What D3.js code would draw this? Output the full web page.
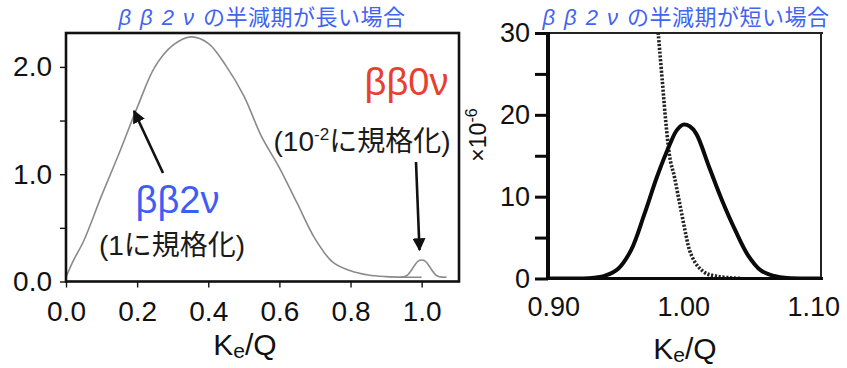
<!DOCTYPE html>
<html>
<head>
<meta charset="utf-8">
<script src="https://cdn.jsdelivr.net/npm/d3@7/dist/d3.min.js"></script>
<style>
  html, body { margin: 0; padding: 0; background: #fff; }
  svg { display: block; }
  text { font-family: "Liberation Sans", Arial, "Noto Sans CJK JP", sans-serif; }
</style>
</head>
<body>
<svg id="chart" width="847" height="368"></svg>
<script>
// ---- Left panel: ββ2ν spectrum (normalised to 1) and ββ0ν peak (normalised to 10^-2)
const leftX = [0.00, 0.02, 0.05, 0.10, 0.15, 0.20, 0.25, 0.30, 0.35, 0.40, 0.45,
               0.50, 0.55, 0.60, 0.65, 0.70, 0.75, 0.80, 0.85, 0.90, 0.95, 1.00];
const twoNu = [0.04, 0.19, 0.38, 0.80, 1.20, 1.62, 2.00, 2.20, 2.28, 2.22, 2.01,
               1.73, 1.35, 1.06, 0.73, 0.40, 0.18, 0.10, 0.06, 0.045, 0.04, 0.04];
const peakX = [0.94, 0.95, 0.96, 0.97, 0.98, 0.99, 1.00, 1.01, 1.02, 1.03, 1.04, 1.05, 1.07];
const zeroNu = [0.04, 0.045, 0.06, 0.10, 0.15, 0.19, 0.20, 0.19, 0.15, 0.10, 0.06, 0.045, 0.04];
const leftXTicks = [0.0, 0.2, 0.4, 0.6, 0.8, 1.0];
const leftYTicks = [0.0, 0.5, 1.0, 1.5, 2.0];
const leftYLabels = [0.0, 1.0, 2.0];

// ---- Right panel: zoom around Ke/Q = 1 (units of 10^-6)
const rightX = [0.896, 0.92, 0.93, 0.94, 0.95, 0.96, 0.97, 0.98, 0.99, 0.995, 1.00,
                1.005, 1.01, 1.02, 1.03, 1.04, 1.05, 1.06, 1.07, 1.08, 1.106];
const zeroNuZoom = [0, 0, 0.05, 0.35, 1.2, 3.5, 7.8, 12.5, 16.5, 18.1, 18.8,
                    18.6, 17.7, 13.6, 9.5, 5.9, 2.8, 0.95, 0.3, 0.05, 0];
const tailX = [0.9805, 0.984, 0.987, 0.990, 0.993, 0.996, 0.999, 1.002, 1.005,
               1.009, 1.013, 1.018, 1.025, 1.035, 1.045];
const twoNuTail = [30.5, 24, 18.5, 14.5, 12.6, 10.2, 7.8, 5.4, 3.4,
                   2.0, 1.2, 0.6, 0.3, 0.1, 0];
const rightXTicks = [0.90, 1.00, 1.10];
const rightYTicks = [0, 5, 10, 15, 20, 25, 30];
const rightYLabels = [0, 10, 20, 30];

const svg = d3.select("#chart");
const BLUE = "#3d5df5", RED = "#e8402f", TITLE_BLUE = "#4363f2";

// ================= left panel =================
const L = { left: 66, right: 459, top: 33, bottom: 281.5 };
const xL = d3.scaleLinear().domain([0, 1.105]).range([L.left, L.right]);
const yL = d3.scaleLinear().domain([0, 2.316]).range([L.bottom, L.top]);

const gL = svg.append("g");
gL.append("clipPath").attr("id", "clipL").append("rect")
  .attr("x", L.left).attr("y", L.top).attr("width", L.right - L.left).attr("height", L.bottom - L.top);

const lineL = d3.line().x(d => xL(d[0])).y(d => yL(d[1])).curve(d3.curveCatmullRom);
gL.append("path").datum(d3.zip(leftX, twoNu)).attr("d", lineL)
  .attr("fill", "none").attr("stroke", "#8a8a8a").attr("stroke-width", 1.6).attr("clip-path", "url(#clipL)");
gL.append("path").datum(d3.zip(peakX, zeroNu)).attr("d", lineL)
  .attr("fill", "none").attr("stroke", "#8a8a8a").attr("stroke-width", 1.6).attr("clip-path", "url(#clipL)");

// frame
gL.append("rect").attr("x", L.left).attr("y", L.top)
  .attr("width", L.right - L.left).attr("height", L.bottom - L.top)
  .attr("fill", "none").attr("stroke", "#111").attr("stroke-width", 2.6);

const axLY = gL.append("g").attr("transform", `translate(${L.left},0)`)
  .call(d3.axisLeft(yL).tickValues(leftYTicks).tickSize(6).tickPadding(8)
        .tickFormat(d => leftYLabels.includes(d) ? d3.format(".1f")(d) : ""));
const axLX = gL.append("g").attr("transform", `translate(0,${L.bottom})`)
  .call(d3.axisBottom(xL).tickValues(leftXTicks).tickSize(6).tickPadding(14).tickFormat(d3.format(".1f")));
[axLY, axLX].forEach(a => {
  a.select(".domain").remove();
  a.selectAll(".tick line").attr("stroke", "#111").attr("stroke-width", 1.4);
  a.selectAll("text").attr("font-size", 28).attr("fill", "#111")
    .attr("font-family", "Liberation Sans, Arial, sans-serif");
});
axLX.selectAll("text").attr("dy", "0.71em");

// axis title
const kqL = gL.append("text").attr("x", 245).attr("y", 355).attr("text-anchor", "middle")
  .attr("font-size", 30).attr("fill", "#111");
kqL.append("tspan").text("K");
kqL.append("tspan").text("e").attr("font-size", 21).attr("dy", 3);
kqL.append("tspan").text("/Q").attr("dy", -3);

// panel title: full-width style Greek followed by Japanese
function title(x, txt) {
  const t = svg.append("text").attr("x", x).attr("y", 25).attr("text-anchor", "middle")
    .attr("font-size", 22).attr("fill", TITLE_BLUE)
    .attr("font-family", "Noto Sans CJK JP, sans-serif");
  t.append("tspan").text("ββ2ν").attr("font-style", "italic").attr("letter-spacing", 9)
    .attr("font-family", "Liberation Sans, sans-serif");
  t.append("tspan").text(txt).attr("letter-spacing", 0.5);
}
title(262, "の半減期が長い場合");

// annotations
svg.append("defs").append("marker").attr("id", "ah")
  .attr("viewBox", "0 0 10 10").attr("refX", 9).attr("refY", 5)
  .attr("markerWidth", 5).attr("markerHeight", 5).attr("orient", "auto")
  .append("path").attr("d", "M0,0 L10,5 L0,10 z").attr("fill", "#111");

gL.append("line").attr("x1", 163).attr("y1", 173).attr("x2", 134).attr("y2", 111)
  .attr("stroke", "#111").attr("stroke-width", 2.6).attr("marker-end", "url(#ah)");
gL.append("line").attr("x1", 416).attr("y1", 162).attr("x2", 419.5).attr("y2", 250)
  .attr("stroke", "#111").attr("stroke-width", 2.6).attr("marker-end", "url(#ah)");

gL.append("text").attr("x", 177.5).attr("y", 213).attr("text-anchor", "middle")
  .attr("font-size", 38).attr("fill", BLUE).text("ββ2ν");
gL.append("text").attr("x", 172).attr("y", 255).attr("text-anchor", "middle")
  .attr("font-size", 28).attr("fill", "#1a1a1a").text("(1に規格化)");
gL.append("text").attr("x", 406.5).attr("y", 95).attr("text-anchor", "middle")
  .attr("font-size", 38).attr("fill", RED).text("ββ0ν");
const norm2 = gL.append("text").attr("x", 362).attr("y", 151).attr("text-anchor", "middle")
  .attr("font-size", 28).attr("fill", "#1a1a1a");
norm2.append("tspan").text("(10");
norm2.append("tspan").text("-2").attr("font-size", 17).attr("dy", -11);
norm2.append("tspan").text("に規格化)").attr("dy", 11);

// ================= right panel =================
const R = { left: 548, right: 821, top: 33, bottom: 278.5 };
const xR = d3.scaleLinear().domain([0.896, 1.106]).range([R.left, R.right]);
const yR = d3.scaleLinear().domain([0, 30]).range([R.bottom, R.top]);

const gR = svg.append("g");
gR.append("clipPath").attr("id", "clipR").append("rect")
  .attr("x", R.left).attr("y", R.top).attr("width", R.right - R.left).attr("height", R.bottom - R.top);

const lineR = d3.line().x(d => xR(d[0])).y(d => yR(d[1])).curve(d3.curveCatmullRom);
gR.append("path").datum(d3.zip(tailX, twoNuTail)).attr("d", lineR)
  .attr("fill", "none").attr("stroke", "#222").attr("stroke-width", 3.6)
  .attr("stroke-dasharray", "2.2,1.6").attr("clip-path", "url(#clipR)");
gR.append("path").datum(d3.zip(rightX, zeroNuZoom)).attr("d", lineR)
  .attr("fill", "none").attr("stroke", "#0a0a0a").attr("stroke-width", 4)
  .attr("clip-path", "url(#clipR)");

// frame: heavy left/bottom, lighter top/right
gR.append("line").attr("x1", R.left).attr("x2", R.right + 2).attr("y1", R.top).attr("y2", R.top)
  .attr("stroke", "#222").attr("stroke-width", 2);
gR.append("line").attr("x1", R.right).attr("x2", R.right).attr("y1", R.top).attr("y2", R.bottom)
  .attr("stroke", "#222").attr("stroke-width", 2);
gR.append("line").attr("x1", R.left).attr("x2", R.left).attr("y1", R.top - 1).attr("y2", R.bottom + 1.5)
  .attr("stroke", "#0a0a0a").attr("stroke-width", 4);
gR.append("line").attr("x1", R.left).attr("x2", R.right + 2).attr("y1", R.bottom).attr("y2", R.bottom)
  .attr("stroke", "#0a0a0a").attr("stroke-width", 3.2);

const axRY = gR.append("g").attr("transform", `translate(${R.left},0)`)
  .call(d3.axisLeft(yR).tickValues(rightYTicks).tickSize(13).tickPadding(5)
        .tickFormat(d => rightYLabels.includes(d) ? d : ""));
const axRX = gR.append("g").attr("transform", `translate(0,${R.bottom})`)
  .call(d3.axisBottom(xR).tickValues(rightXTicks).tickSize(0).tickPadding(18).tickFormat(d3.format(".2f")));
[axRY, axRX].forEach(a => {
  a.select(".domain").remove();
  a.selectAll(".tick line").attr("stroke", "#0a0a0a").attr("stroke-width", 3);
  a.selectAll("text").attr("font-size", 27).attr("fill", "#111")
    .attr("font-family", "Liberation Sans, Arial, sans-serif");
});
axRX.selectAll("text").attr("dy", "0.71em");

const kqR = gR.append("text").attr("x", 685).attr("y", 359).attr("text-anchor", "middle")
  .attr("font-size", 30).attr("fill", "#111");
kqR.append("tspan").text("K");
kqR.append("tspan").text("e").attr("font-size", 21).attr("dy", 3);
kqR.append("tspan").text("/Q").attr("dy", -3);

const unit = gR.append("text").attr("transform", "translate(486,135) rotate(-90)")
  .attr("text-anchor", "middle").attr("font-size", 23).attr("fill", "#111");
unit.append("tspan").text("×10");
unit.append("tspan").text("-6").attr("font-size", 16).attr("dy", -9);

title(686, "の半減期が短い場合");
</script>
</body>
</html>
